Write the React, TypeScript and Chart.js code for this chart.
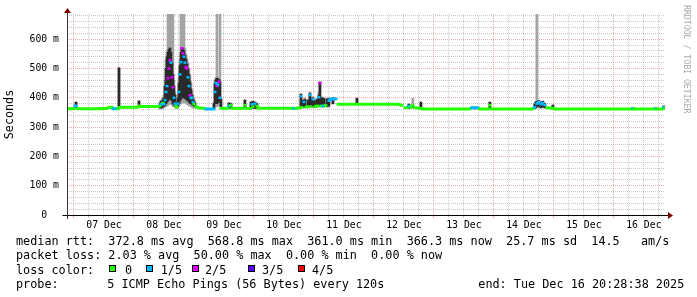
import React, { useEffect, useRef } from 'react';
import { Chart, registerables } from 'chart.js';

Chart.register(...registerables);

// ---------- data ----------
// time axis: hours relative to 07 Dec 00:00
const startHour = -2.8;
const endHour = 236.47;
const dayLabels = ['07 Dec', '08 Dec', '09 Dec', '10 Dec', '11 Dec', '12 Dec', '13 Dec', '14 Dec', '15 Dec', '16 Dec'];
const yMaxMs = 686;

const lossColors = ['#26ff00', '#00b8ff', '#dd00ff', '#5e00ff', '#ff0000'];
const lossLabels = ['0', '1/5', '2/5', '3/5', '4/5'];

// median rtt (ms) and loss count per sample
const medianHours = [
  -2.8, 0, 0.4, 0.8, 1.2, 10.4, 13.2, 14.0, 15.2, 15.6, 17.2, 17.6, 18.4, 25.2, 26.0, 26.8,
  33.6, 34.4, 34.8, 35.6, 36.0, 36.4, 36.8, 37.2, 37.6, 38.0, 38.4, 38.8, 39.2, 39.6, 40.0, 40.4,
  40.8, 41.2, 41.6, 42.0, 42.4, 42.8, 43.2, 43.6, 44.0, 44.4, 44.8, 45.2, 45.6, 46.0, 46.4, 46.8,
  47.2, 47.6, 48.0, 48.8, 49.6, 52.0, 52.8, 56.0, 56.4, 56.8, 57.2, 57.6, 58.0, 58.4, 58.8,
  61.6, 62.0, 62.8, 63.2, 68.0, 68.4, 68.8, 70.8, 71.2, 71.6, 72.4, 73.2, 73.6,
  86.4, 86.8, 88.4, 88.8,
  90.4, 90.8, 91.2, 92.0, 92.8, 93.6, 94.4, 94.8, 95.6, 96.4, 97.6, 98.0, 98.4, 98.8, 99.6, 100.8,
  102.0, 102.8, 104.8, 105.6,
  130.0, 131.2, 132.4, 133.2, 134.0, 134.8, 135.6, 136.4, 138.4, 139.6,
  158.4, 159.2, 161.6, 162.4, 166.0, 166.4, 166.8,
  183.6, 184.4, 185.2, 186.0, 186.8, 187.6, 188.4, 189.2, 191.6, 192.4,
  223.2, 223.6, 224.0, 232.4, 232.8, 233.2, 235.6, 236.0, 236.47,
];
const medianMs = [
  363, 363, 372, 372, 363, 363, 364, 368, 368, 363, 363, 363, 368, 368, 372, 370,
  370, 372, 378, 382, 378, 392, 420, 440, 467, 500, 528, 520, 470, 436, 400, 380,
  372, 368, 380, 420, 480, 522, 568.8, 552, 540, 520, 505, 500, 470, 440, 409, 400,
  399, 385, 378, 370, 366, 364, 362, 362, 420, 450, 440, 445, 455, 400, 364,
  364, 372, 375, 364, 364, 375, 364, 364, 378, 370, 380, 372, 364,
  364, 364, 364, 364,
  366, 405, 368, 386, 368, 370, 410, 370, 395, 370, 372, 402, 450, 372, 372, 374,
  390, 396, 396, 378,
  378, 374, 366, 366, 372, 368, 374, 366, 364, 362,
  362, 366, 366, 362, 362, 375, 362,
  362, 368, 380, 385, 378, 382, 375, 366, 364, 362,
  362, 364, 362, 362, 364, 362, 362, 368, 366.3,
];
const medianLoss = [
  0, 0, 1, 1, 0, 0, 0, 0, 0, 1, 1, 0, 0, 0, 0, 0,
  0, 0, 1, 0, 1, 1, 1, 1, 2, 2, 2, 1, 2, 2, 1, 1,
  0, 0, 1, 1, 1, 1, 2, 2, 1, 1, 2, 2, 1, 1, 2, 1,
  1, 1, 0, 0, 0, 0, 1, 1, 1, 1, 2, 1, 2, 1, 0,
  0, 1, 0, 0, 0, 0, 0, 0, 1, 0, 1, 0, 0,
  0, 0, 1, 0,
  0, 1, 0, 1, 0, 0, 1, 0, 1, 0, 0, 1, 2, 0, 1, 0,
  1, 1, 1, 0,
  0, 0, 0, 0, 1, 0, 0, 0, 0, 0,
  0, 1, 1, 0, 0, 0, 0,
  0, 1, 1, 1, 1, 1, 1, 0, 0, 0,
  0, 1, 0, 0, 1, 0, 0, 1, 0,
];

// smoke (ping spread) in ms
const smokeHours = [
  0.8, 18.0, 26.0,
  34.4, 34.8, 35.2, 35.6, 36.0, 36.4, 36.8, 37.2, 37.6, 38.0, 38.4, 38.8, 39.2, 39.6, 40.0, 40.4, 40.8, 41.2,
  41.6, 42.0, 42.4, 42.8, 43.2, 43.6, 44.0, 44.4, 44.8, 45.2, 45.6, 46.0, 46.4, 46.8, 47.2, 47.6, 48.0, 48.4,
  56.0, 56.4, 56.8, 57.2, 57.6, 58.0, 58.4, 58.8,
  62.0, 62.8, 68.4, 70.8, 71.6, 72.4, 73.2,
  90.8, 91.6, 92.4, 93.6, 94.4, 95.2, 95.6, 96.4, 97.2, 98.0, 98.4, 99.2, 100.0, 101.2, 102.0, 103.6,
  113.2, 134.0, 135.6, 138.8, 160.4, 166.4,
  184.4, 184.8, 185.2, 186.0, 186.8, 187.6, 188.4, 191.6, 236.0,
];
const smokeDarkLow = [
  364, 366, 368,
  365, 368, 366, 370, 372, 375, 380, 385, 390, 395, 400, 395, 390, 380, 375, 372, 368, 366,
  372, 380, 390, 395, 400, 405, 400, 398, 395, 392, 390, 385, 382, 380, 378, 375, 372, 370,
  366, 380, 385, 380, 385, 390, 385, 370,
  364, 364, 364, 364, 364, 364, 364,
  366, 368, 370, 368, 370, 370, 372, 368, 370, 372, 375, 372, 372, 370, 372, 380,
  378, 364, 366, 362, 362, 362,
  364, 366, 370, 370, 366, 368, 366, 362, 362,
];
const smokeDarkHigh = [
  385, 502, 389,
  380, 388, 380, 395, 400, 440, 500, 540, 555, 565, 570, 555, 520, 480, 440, 410, 385, 378,
  400, 450, 510, 555, 570, 568, 560, 545, 530, 515, 500, 480, 455, 430, 410, 400, 390, 382,
  380, 450, 462, 467, 465, 462, 455, 395,
  382, 380, 392, 385, 388, 385, 380,
  412, 392, 395, 392, 416, 398, 400, 390, 395, 410, 453, 400, 398, 396, 398, 400,
  398, 378, 372, 385, 368, 385,
  378, 385, 388, 390, 385, 388, 380, 375, 372,
];
const smokeLightLow = [
  363, 365, 367,
  362, 362, 362, 364, 366, 368, 370, 372, 375, 378, 380, 378, 375, 372, 370, 368, 365, 363,
  368, 372, 378, 380, 382, 385, 385, 383, 380, 378, 376, 374, 372, 370, 368, 366, 365, 364,
  362, 368, 370, 370, 372, 375, 372, 366,
  364, 364, 364, 364, 364, 364, 364,
  366, 366, 366, 366, 368, 368, 368, 366, 368, 368, 370, 368, 368, 368, 368, 378,
  378, 363, 365, 362, 362, 362,
  363, 364, 366, 366, 364, 366, 364, 362, 362,
];
const smokeLightHigh = [
  386, 503, 390,
  385, 392, 385, 400, 410, 460, 530, 560, 700, 700, 700, 700, 700, 700, 460, 420, 390, 382,
  410, 470, 530, 700, 700, 700, 700, 570, 550, 535, 520, 500, 475, 450, 425, 410, 395, 385,
  385, 460, 470, 700, 470, 470, 700, 400,
  384, 382, 394, 387, 390, 387, 382,
  414, 395, 400, 395, 418, 400, 404, 392, 398, 420, 456, 404, 400, 398, 400, 402,
  400, 380, 398, 386, 370, 386,
  380, 388, 700, 392, 388, 390, 382, 376, 373,
];

// legend text
const rttLine = 'median rtt:  372.8 ms avg  568.8 ms max  361.0 ms min  366.3 ms now  25.7 ms sd  14.5   am/s';
const lossLine = 'packet loss: 2.03 % avg  50.00 % max  0.00 % min  0.00 % now';
const lossColorTitle = 'loss color:';
const probeTitle = 'probe:';
const probeText = '5 ICMP Echo Pings (56 Bytes) every 120s';
const endText = 'end: Tue Dec 16 20:28:38 2025';
const watermark = 'RRDTOOL / TOBI OETIKER';

// ---------- layout (pixels) ----------
const boxX = [109, 146, 191.5, 247.5, 297.5];
const boxLabelX = [125, 160.7, 205, 262, 312];

const FONT = '"DejaVu Sans Mono", monospace';
const MGRID = 'rgba(225,110,110,0.6)';
const GRID = 'rgba(150,150,150,0.5)';
const JUMP_MS = 6;

const axesPlugin = {
  id: 'rrdAxes',
  afterDatasetsDraw(chart: any) {
    const { ctx, chartArea } = chart;
    const { left, right, top, bottom } = chartArea;
    const L = Math.round(left) + 0.5;
    const B = Math.round(bottom) + 0.5;
    ctx.save();
    ctx.lineWidth = 1;
    ctx.strokeStyle = '#000000';
    ctx.beginPath();
    ctx.moveTo(L - 5, B);
    ctx.lineTo(right + 4, B);
    ctx.stroke();
    ctx.strokeStyle = '#333333';
    ctx.beginPath();
    ctx.moveTo(L, bottom + 4);
    ctx.lineTo(L, top - 2);
    ctx.stroke();
    ctx.fillStyle = '#7f0000';
    ctx.beginPath();
    ctx.moveTo(right + 3, B - 3.5);
    ctx.lineTo(right + 8, B);
    ctx.lineTo(right + 3, B + 3.5);
    ctx.closePath();
    ctx.fill();
    ctx.beginPath();
    ctx.moveTo(L - 3.5, top - 1);
    ctx.lineTo(L, top - 6);
    ctx.lineTo(L + 3.5, top - 1);
    ctx.closePath();
    ctx.fill();
    ctx.restore();
  },
};

export default function App() {
  const ref = useRef<HTMLCanvasElement>(null);

  useEffect(() => {
    if (!ref.current) return;
    Chart.defaults.font.family = FONT;
    const chart = new Chart(ref.current, {
      type: 'bar',
      data: {
        datasets: [
          {
            type: 'line',
            label: 'median rtt',
            data: medianHours.map((h, i) => ({ x: h, y: medianMs[i] })),
            borderColor: lossColors[0],
            borderWidth: 3,
            tension: 0,
            borderCapStyle: 'butt',
            pointStyle: 'line',
            pointRadius: 1.5,
            pointBorderWidth: 2.5,
            pointBorderColor: medianLoss.map((l) => lossColors[l]),
            pointBackgroundColor: medianLoss.map((l) => lossColors[l]),
            segment: {
              borderColor: (c: any) =>
                Math.abs(c.p1.parsed.y - c.p0.parsed.y) > JUMP_MS
                  ? 'rgba(0,0,0,0)'
                  : lossColors[medianLoss[c.p1DataIndex]],
            },
            order: 0,
          } as any,
          {
            type: 'bar',
            label: 'smoke dark',
            data: smokeHours.map((h, i) => ({ x: h, y: [smokeDarkLow[i], smokeDarkHigh[i]] })),
            backgroundColor: '#2b2b2b',
            borderWidth: 0,
            barThickness: 2,
            grouped: false,
            order: 1,
          } as any,
          {
            type: 'bar',
            label: 'smoke light',
            data: smokeHours.map((h, i) => ({ x: h, y: [smokeLightLow[i], smokeLightHigh[i]] })),
            backgroundColor: '#a4a4a4',
            borderWidth: 0,
            barThickness: 2,
            grouped: false,
            order: 2,
          } as any,
        ],
      },
      options: {
        responsive: false,
        animation: false,
        devicePixelRatio: 1,
        layout: { padding: { left: 0, top: 14, right: 32, bottom: 0 } },
        plugins: { legend: { display: false }, tooltip: { enabled: false } },
        scales: {
          x: {
            type: 'linear',
            min: startHour,
            max: endHour,
            offset: false,
            grid: {
              offset: false,
              color: (c: any) => (c.tick && Math.round(c.tick.value) % 24 === 0 ? MGRID : GRID),
              tickColor: (c: any) => (c.tick && Math.round(c.tick.value) % 24 === 0 ? MGRID : GRID),
              drawTicks: true,
              tickLength: 3,
              lineWidth: 1,
            },
            border: { display: false, dash: [1, 1] },
            ticks: {
              stepSize: 6,
              autoSkip: false,
              maxRotation: 0,
              includeBounds: false,
              padding: 2,
              color: '#000',
              font: { family: FONT, size: 9.8 },
              callback: (v: any) => {
                const n = Math.round(Number(v));
                if (((n % 24) + 24) % 24 !== 12) return '';
                return dayLabels[(n - 12) / 24] ?? '';
              },
            },
            afterFit: (s: any) => {
              s.height = 82;
            },
          },
          y: {
            type: 'linear',
            min: 0,
            max: yMaxMs,
            grid: {
              color: (c: any) => (c.tick && c.tick.value % 100 === 0 ? MGRID : GRID),
              drawTicks: false,
              lineWidth: 1,
            },
            border: { display: false, dash: [1, 1] },
            ticks: {
              stepSize: 20,
              autoSkip: false,
              includeBounds: false,
              padding: 8,
              color: '#000',
              font: { family: FONT, size: 9.8 },
              callback: (v: any) => {
                const n = Math.round(Number(v));
                if (n % 100 !== 0) return '';
                return n === 0 ? '0  ' : `${n} m`;
              },
            },
            title: {
              display: true,
              text: 'Seconds',
              color: '#000',
              font: { family: FONT, size: 11.75 },
              padding: { top: 3, bottom: 0 },
            },
            afterFit: (s: any) => {
              s.width = 67;
            },
          },
        },
      } as any,
      plugins: [axesPlugin],
    });
    return () => chart.destroy();
  }, []);

  const textStyle = (left: number, centerY: number): React.CSSProperties => ({
    position: 'absolute',
    left,
    top: centerY - 7,
    lineHeight: '14px',
    fontSize: '11.8px',
    fontFamily: FONT,
    color: '#000',
    whiteSpace: 'pre',
  });

  return (
    <div
      style={{
        position: 'absolute',
        left: 0,
        top: 0,
        width: 697,
        height: 297,
        background: '#ffffff',
        overflow: 'hidden',
      }}
    >
      <canvas
        ref={ref}
        width={697}
        height={297}
        style={{ position: 'absolute', left: 0, top: 0, width: 697, height: 297 }}
      />
      <div
        style={{
          position: 'absolute',
          left: 682,
          top: 5,
          writingMode: 'vertical-rl',
          fontFamily: FONT,
          fontSize: '8.2px',
          lineHeight: '10px',
          color: '#aaaaaa',
          whiteSpace: 'pre',
        }}
      >
        {watermark}
      </div>

      <span style={textStyle(16, 241)}>{rttLine}</span>
      <span style={textStyle(16, 255.3)}>{lossLine}</span>

      <span style={textStyle(16, 269.5)}>{lossColorTitle}</span>
      {lossLabels.map((t, i) => (
        <React.Fragment key={'c' + i}>
          <span
            style={{
              position: 'absolute',
              left: boxX[i],
              top: 265,
              width: 7,
              height: 7,
              boxSizing: 'border-box',
              border: '1px solid #000',
              background: lossColors[i],
            }}
          />
          <span style={textStyle(boxLabelX[i], 269.5)}>{t}</span>
        </React.Fragment>
      ))}

      <span style={textStyle(16, 283.7)}>{probeTitle}</span>
      <span style={textStyle(107.3, 283.7)}>{probeText}</span>
      <span style={textStyle(478.3, 283.7)}>{endText}</span>
    </div>
  );
}
